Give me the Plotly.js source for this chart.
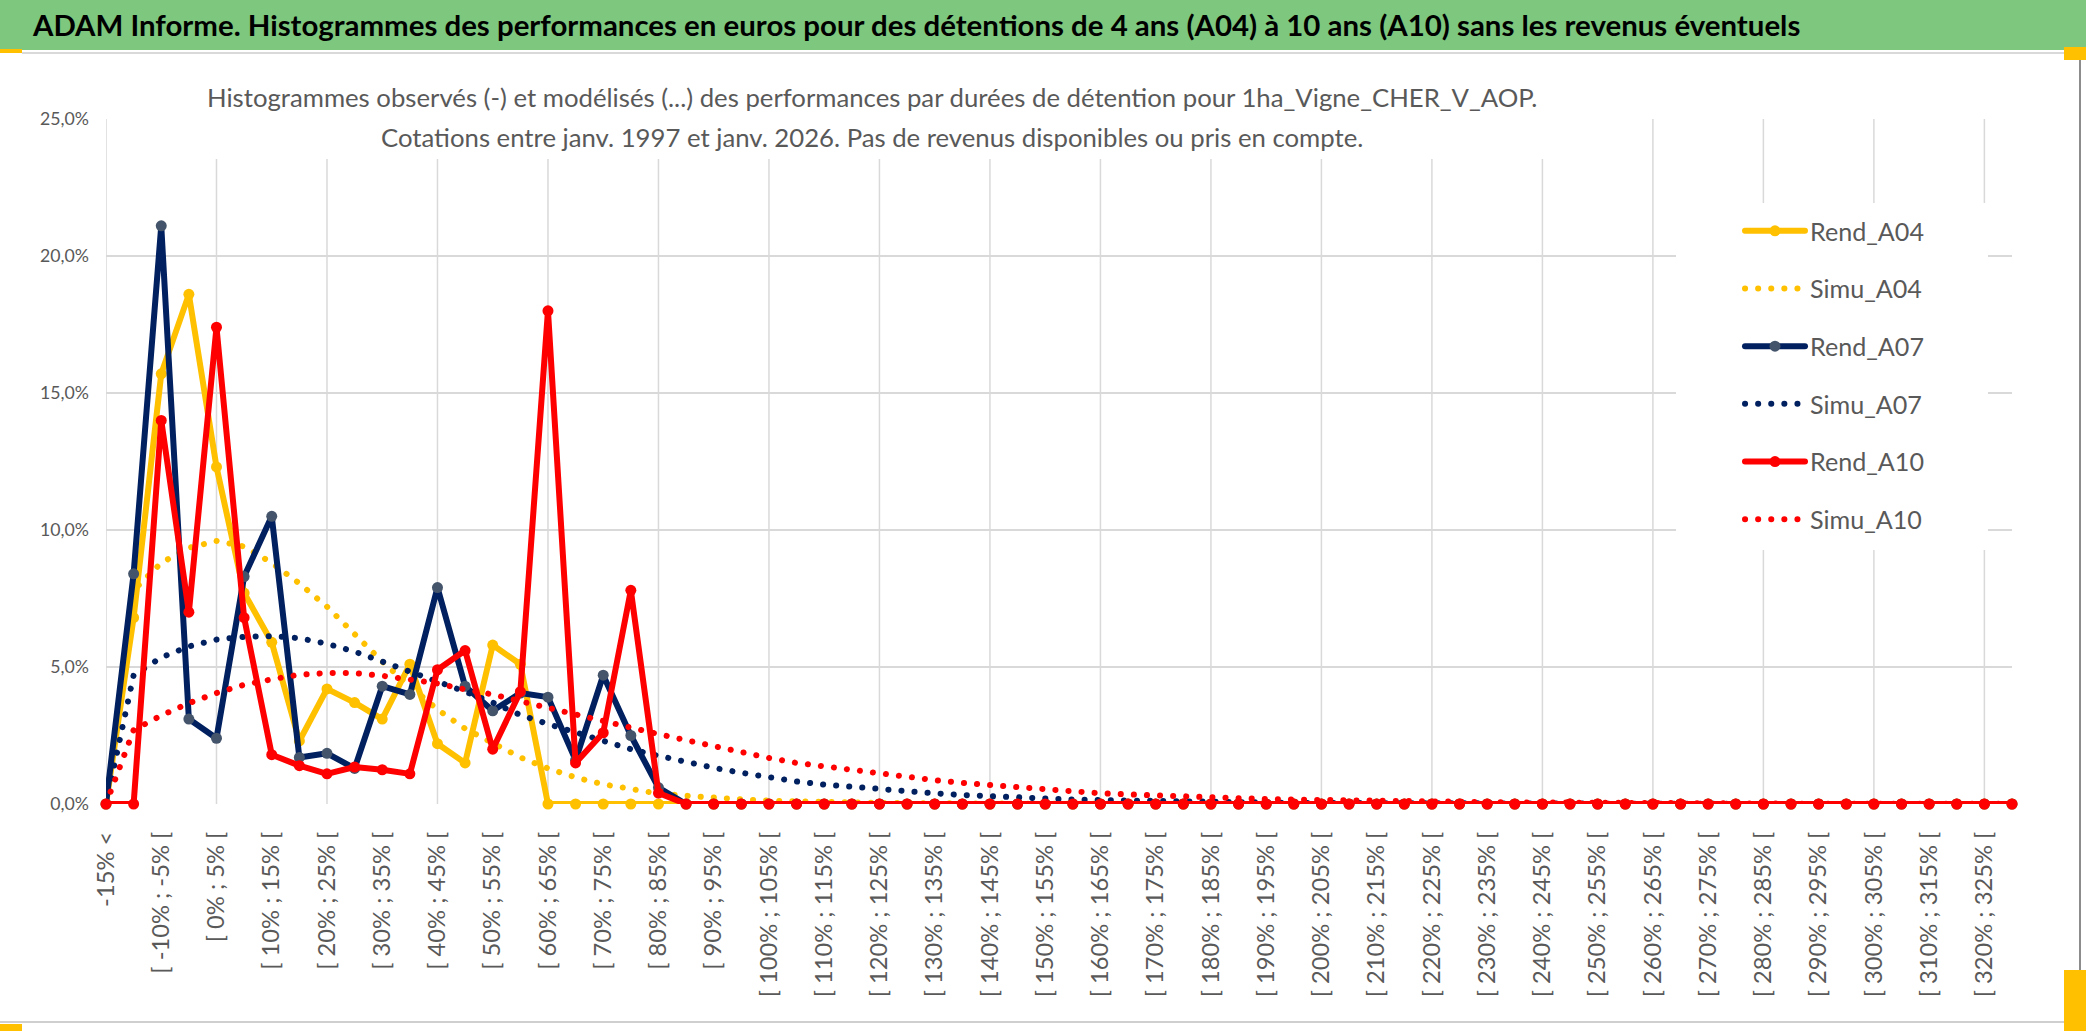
<!DOCTYPE html>
<html>
<head>
<meta charset="utf-8">
<script src="https://cdn.plot.ly/plotly-3.0.1.min.js"></script>
<style>
  html, body { margin: 0; padding: 0; background: #ffffff; }
  #chart { width: 2086px; height: 1031px; }
  .js-line { stroke-linecap: round !important; stroke-linejoin: round !important; }
</style>
</head>
<body>
<div id="chart"></div>
<script>
const categories = [
  "-15% <", "[ -15% ; -10% [", "[ -10% ; -5% [", "[ -5% ; 0% [", "[ 0% ; 5% [",
  "[ 5% ; 10% [", "[ 10% ; 15% [", "[ 15% ; 20% [", "[ 20% ; 25% [", "[ 25% ; 30% [",
  "[ 30% ; 35% [", "[ 35% ; 40% [", "[ 40% ; 45% [", "[ 45% ; 50% [", "[ 50% ; 55% [",
  "[ 55% ; 60% [", "[ 60% ; 65% [", "[ 65% ; 70% [", "[ 70% ; 75% [", "[ 75% ; 80% [",
  "[ 80% ; 85% [", "[ 85% ; 90% [", "[ 90% ; 95% [", "[ 95% ; 100% [", "[ 100% ; 105% [",
  "[ 105% ; 110% [", "[ 110% ; 115% [", "[ 115% ; 120% [", "[ 120% ; 125% [", "[ 125% ; 130% [",
  "[ 130% ; 135% [", "[ 135% ; 140% [", "[ 140% ; 145% [", "[ 145% ; 150% [", "[ 150% ; 155% [",
  "[ 155% ; 160% [", "[ 160% ; 165% [", "[ 165% ; 170% [", "[ 170% ; 175% [", "[ 175% ; 180% [",
  "[ 180% ; 185% [", "[ 185% ; 190% [", "[ 190% ; 195% [", "[ 195% ; 200% [", "[ 200% ; 205% [",
  "[ 205% ; 210% [", "[ 210% ; 215% [", "[ 215% ; 220% [", "[ 220% ; 225% [", "[ 225% ; 230% [",
  "[ 230% ; 235% [", "[ 235% ; 240% [", "[ 240% ; 245% [", "[ 245% ; 250% [", "[ 250% ; 255% [",
  "[ 255% ; 260% [", "[ 260% ; 265% [", "[ 265% ; 270% [", "[ 270% ; 275% [", "[ 275% ; 280% [",
  "[ 280% ; 285% [", "[ 285% ; 290% [", "[ 290% ; 295% [", "[ 295% ; 300% [", "[ 300% ; 305% [",
  "[ 305% ; 310% [", "[ 310% ; 315% [", "[ 315% ; 320% [", "[ 320% ; 325% [", "[ 325% ; 330% ["
];

const rendA04 = [
  0, 6.8, 15.7, 18.6, 12.3, 7.7, 5.9, 2.3, 4.2, 3.7,
  3.1, 5.1, 2.2, 1.5, 5.8, 5.1, 0, 0, 0, 0,
  0, 0, 0, 0, 0, 0, 0, 0, 0, 0,
  0, 0, 0, 0, 0, 0, 0, 0, 0, 0,
  0, 0, 0, 0, 0, 0, 0, 0, 0, 0,
  0, 0, 0, 0, 0, 0, 0, 0, 0, 0,
  0, 0, 0, 0, 0, 0, 0, 0, 0, 0
];
const simuA04 = [
  0, 7.8, 8.8, 9.35, 9.6, 9.4, 8.8, 8.05, 7.2, 6.2,
  5.2, 4.3, 3.45, 2.75, 2.2, 1.7, 1.3, 0.97, 0.72, 0.53,
  0.38, 0.3, 0.22, 0.17, 0.12, 0.09, 0.07, 0.05, 0.04, 0.03,
  0.02, 0.02, 0.01, 0.01, 0.01, 0, 0, 0, 0, 0,
  0, 0, 0, 0, 0, 0, 0, 0, 0, 0,
  0, 0, 0, 0, 0, 0, 0, 0, 0, 0,
  0, 0, 0, 0, 0, 0, 0, 0, 0, 0
];
const rendA07 = [
  0, 8.4, 21.1, 3.1, 2.4, 8.3, 10.5, 1.7, 1.85, 1.3,
  4.3, 4.0, 7.9, 4.3, 3.4, 4.05, 3.9, 1.6, 4.7, 2.5,
  0.6, 0, 0, 0, 0, 0, 0, 0, 0, 0,
  0, 0, 0, 0, 0, 0, 0, 0, 0, 0,
  0, 0, 0, 0, 0, 0, 0, 0, 0, 0,
  0, 0, 0, 0, 0, 0, 0, 0, 0, 0,
  0, 0, 0, 0, 0, 0, 0, 0, 0, 0
];
const simuA07 = [
  0, 4.7, 5.35, 5.75, 6.0, 6.1, 6.13, 6.05, 5.85, 5.56,
  5.2, 4.85, 4.5, 4.1, 3.7, 3.25, 2.92, 2.62, 2.28, 2.0,
  1.76, 1.52, 1.32, 1.14, 0.97, 0.82, 0.71, 0.62, 0.53, 0.45,
  0.39, 0.33, 0.28, 0.23, 0.19, 0.16, 0.14, 0.12, 0.1, 0.08,
  0.07, 0.06, 0.05, 0.04, 0.035, 0.03, 0.025, 0.02, 0.02, 0.015,
  0.01, 0.01, 0.01, 0.01, 0, 0, 0, 0, 0, 0,
  0, 0, 0, 0, 0, 0, 0, 0, 0, 0
];
const rendA10 = [
  0, 0, 14.0, 7.0, 17.4, 6.8, 1.8, 1.4, 1.1, 1.35,
  1.25, 1.1, 4.9, 5.6, 2.0, 4.1, 18.0, 1.5, 2.6, 7.8,
  0.4, 0, 0, 0, 0, 0, 0, 0, 0, 0,
  0, 0, 0, 0, 0, 0, 0, 0, 0, 0,
  0, 0, 0, 0, 0, 0, 0, 0, 0, 0,
  0, 0, 0, 0, 0, 0, 0, 0, 0, 0,
  0, 0, 0, 0, 0, 0, 0, 0, 0, 0
];
const simuA10 = [
  0, 2.7, 3.23, 3.68, 4.05, 4.35, 4.55, 4.72, 4.78, 4.78,
  4.68, 4.53, 4.4, 4.18, 4.0, 3.75, 3.5, 3.25, 3.02, 2.8,
  2.55, 2.33, 2.1, 1.9, 1.68, 1.5, 1.37, 1.24, 1.1, 0.98,
  0.87, 0.77, 0.69, 0.6, 0.53, 0.45, 0.39, 0.35, 0.31, 0.26,
  0.23, 0.21, 0.18, 0.16, 0.14, 0.12, 0.11, 0.1, 0.09, 0.08,
  0.07, 0.06, 0.05, 0.045, 0.04, 0.035, 0.03, 0.025, 0.02, 0.02,
  0.015, 0.015, 0.01, 0.01, 0.01, 0.01, 0.005, 0.005, 0.005, 0.005
];

const seriesNames = ["Rend_A04", "Simu_A04", "Rend_A07", "Simu_A07", "Rend_A10", "Simu_A10"];
const yTickValues = [0, 5, 10, 15, 20, 25];
const yTickLabels = ["0,0%", "5,0%", "10,0%", "15,0%", "20,0%", "25,0%"];

const mainTitle = "ADAM Informe. Histogrammes des performances en euros pour des détentions de 4 ans (A04) à 10 ans (A10) sans les revenus éventuels";
const subTitleLines = [
  "Histogrammes observés (-) et modélisés (...) des performances par durées de détention pour 1ha_Vigne_CHER_V_AOP.",
  "Cotations entre janv. 1997 et janv. 2026. Pas de revenus disponibles ou pris en compte."
];

// ---- layout geometry ----
const FIG_W = 2086, FIG_H = 1031;
const M = { l: 106, r: 74, t: 119, b: 227 };
const PW = FIG_W - M.l - M.r, PH = FIG_H - M.t - M.b;
const px = x => (x - M.l) / PW;
const py = y => (FIG_H - M.b - y) / PH;

const FONT = "Lato";
const FONT_STACK = "Lato, 'Liberation Sans', sans-serif";
const GRAY = "#595959";
const GRID = "#D9D9D9";
const DOTS = "0.1px,13px";

// font size fitted so that a text spans a given pixel width
const ctx = document.createElement("canvas").getContext("2d");
function fitSize(text, target, weight) {
  ctx.font = (weight || "normal") + " 100px " + FONT;
  return 100 * target / ctx.measureText(text).width;
}
const titleSize = Math.min(34, fitSize(mainTitle, 1768, "bold"));
const subSize = Math.min(31, fitSize(subTitleLines[0], 1332));
const legendSize = Math.min(30, fitSize(seriesNames[0], 114));
const yTickSize = Math.min(22, fitSize(yTickLabels[5], 49));
const xTickSize = Math.min(28, fitSize(categories[2], 142));

function solid(name, y, lineColor, markerColor, group) {
  return {
    type: "scatter", mode: "lines+markers", name: name, x: categories, y: y,
    legendgroup: group, cliponaxis: false,
    line: { color: lineColor, width: 6 },
    marker: { color: markerColor, size: 11, line: { width: 0 } }
  };
}
function dotted(name, y, color, group) {
  return {
    type: "scatter", mode: "lines", name: name, x: categories, y: y,
    legendgroup: group, cliponaxis: false,
    line: { color: color, width: 6, dash: DOTS }
  };
}

const traces = [
  solid(seriesNames[0], rendA04, "#FFC000", "#FFC000", "g1"),
  dotted(seriesNames[1], simuA04, "#FFC000", "g2"),
  solid(seriesNames[2], rendA07, "#002060", "#44546A", "g3"),
  dotted(seriesNames[3], simuA07, "#002060", "g4"),
  solid(seriesNames[4], rendA10, "#FF0000", "#FF0000", "g5"),
  dotted(seriesNames[5], simuA10, "#FF0000", "g6")
];

const shapes = [];
shapes.push({ type: "rect", xref: "paper", yref: "paper", layer: "below",
  x0: px(0), x1: px(FIG_W), y0: py(50), y1: py(0),
  fillcolor: "#7DC77E", line: { width: 0 } });
shapes.push({ type: "line", xref: "paper", yref: "paper", layer: "below",
  x0: px(22), x1: px(2064), y0: py(53), y1: py(53),
  line: { color: GRID, width: 2 } });
shapes.push({ type: "line", xref: "paper", yref: "paper", layer: "below",
  x0: px(0), x1: px(2064), y0: py(1022), y1: py(1022),
  line: { color: "#CFCFCF", width: 2 } });
shapes.push({ type: "line", xref: "paper", yref: "paper", layer: "below",
  x0: px(2080), x1: px(2080), y0: py(58), y1: py(970),
  line: { color: "#8C8C8C", width: 2 } });
[[0, 22, 49, 53], [0, 22, 1024, 1031], [2064, 2086, 47, 60], [2064, 2086, 970, 1031]].forEach(r => {
  shapes.push({ type: "rect", xref: "paper", yref: "paper", layer: "below",
    x0: px(r[0]), x1: px(r[1]), y0: py(r[3]), y1: py(r[2]),
    fillcolor: "#FFC000", line: { width: 0 } });
});
// vertical gridlines every 4 categories
categories.forEach((c, i) => {
  if (i % 4 === 0) {
    shapes.push({ type: "line", xref: "x", yref: "y", layer: "below",
      x0: c, x1: c, y0: 0, y1: 25, line: { color: GRID, width: 1.5 } });
  }
});
// white boxes behind the chart title and the legend (hide the grid there)
shapes.push({ type: "rect", xref: "paper", yref: "paper", layer: "above",
  x0: px(199), x1: px(1544), y0: py(159), y1: py(112),
  fillcolor: "#FFFFFF", line: { width: 0 } });
shapes.push({ type: "rect", xref: "paper", yref: "paper", layer: "above",
  x0: px(1676), x1: px(1988), y0: py(550), y1: py(203),
  fillcolor: "#FFFFFF", line: { width: 0 } });

const layout = {
  width: FIG_W, height: FIG_H,
  margin: { l: M.l, r: M.r, t: M.t, b: M.b, pad: 0 },
  paper_bgcolor: "#FFFFFF", plot_bgcolor: "#FFFFFF",
  font: { family: FONT_STACK, color: GRAY },
  hovermode: false,
  title: {
    text: "<b>" + mainTitle + "</b>",
    font: { family: FONT_STACK, size: titleSize, color: "#000000" },
    xref: "container", yref: "container",
    x: 33 / FIG_W, xanchor: "left",
    y: 1 - 26 / FIG_H, yanchor: "middle"
  },
  xaxis: {
    type: "category", range: [0, categories.length - 1], autorange: false,
    tickmode: "array",
    tickvals: categories.filter((c, i) => i % 2 === 0),
    ticktext: categories.filter((c, i) => i % 2 === 0),
    tickangle: -90, ticks: "", ticklabelstandoff: 22,
    tickfont: { family: FONT_STACK, size: xTickSize, color: GRAY },
    showgrid: false, zeroline: false, showline: false
  },
  yaxis: {
    range: [0, 25], autorange: false,
    tickmode: "array", tickvals: yTickValues, ticktext: yTickLabels,
    ticks: "", ticklabelstandoff: 16,
    tickfont: { family: FONT_STACK, size: yTickSize, color: GRAY },
    showgrid: true, gridcolor: GRID, gridwidth: 1.5,
    zeroline: false, showline: false
  },
  legend: {
    x: px(1740), xanchor: "left", y: py(208), yanchor: "top",
    bgcolor: "rgba(255,255,255,0)", borderwidth: 0,
    font: { family: FONT_STACK, size: legendSize, color: GRAY },
    traceorder: "grouped", tracegroupgap: 22, itemwidth: 60
  },
  annotations: subTitleLines.map((t, i) => ({
    text: t, showarrow: false,
    xref: "paper", yref: "paper",
    x: px(872), xanchor: "center", y: py(97 + 40 * i), yanchor: "middle",
    font: { family: FONT_STACK, size: subSize, color: GRAY }
  })),
  shapes: shapes
};

Plotly.newPlot("chart", traces, layout, { staticPlot: true, displayModeBar: false });
</script>
</body>
</html>
